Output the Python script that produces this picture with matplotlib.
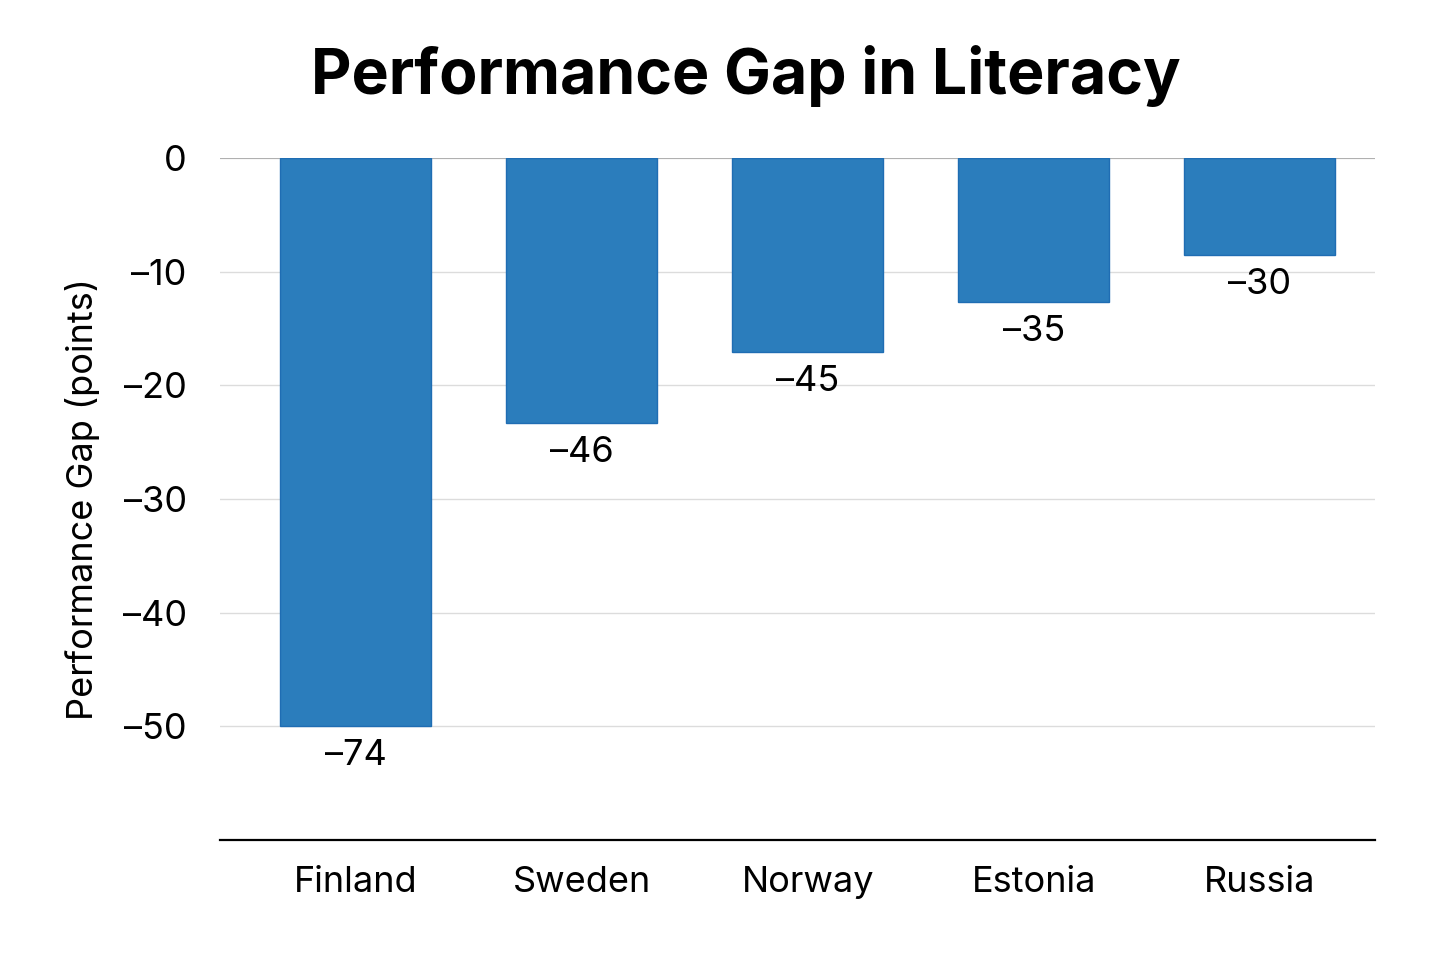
import matplotlib.pyplot as plt
import numpy as np

# Дані
countries = ['Finland', 'Sweden', 'Norway', 'Estonia', 'Russia']
bar_heights = [-50, -23.3, -17.1, -12.7, -8.5]   # висота стовпців, як намальовано
gap_labels = ['–74', '–46', '–45', '–35', '–30']  # підписи під стовпцями
yticks = [0, -10, -20, -30, -40, -50]
ytick_labels = ['0', '–10', '–20', '–30', '–40', '–50']

plt.rcParams['font.family'] = ['Inter', 'DejaVu Sans']

fig = plt.figure(figsize=(14.56, 9.71), dpi=100)
ax = fig.add_axes([0.1511, 0.1349, 0.7933, 0.7024])

x = np.arange(len(countries))
ax.bar(x, bar_heights, width=0.67, color='#2b7dbc', edgecolor='#1f6db3',
       linewidth=1, zorder=3)

for xi, h, lab in zip(x, bar_heights, gap_labels):
    ax.text(xi, h - 2.6, lab, ha='center', va='center', fontsize=26, zorder=4)

ax.set_xlim(-0.60, 4.51)
ax.set_ylim(-60, 0)
ax.set_yticks(yticks)
ax.set_yticklabels(ytick_labels, fontsize=26)
ax.set_xticks(x)
ax.set_xticklabels(countries, fontsize=26)
ax.tick_params(axis='both', length=0)
ax.tick_params(axis='y', pad=24)
ax.tick_params(axis='x', pad=19)

ax.grid(axis='y', color='#dcdcdc', linewidth=1, zorder=0)
ax.axhline(0, color='#a8a8a8', linewidth=1.2, zorder=2)

for s in ['top', 'right', 'left']:
    ax.spines[s].set_visible(False)
ax.spines['bottom'].set_linewidth(1.6)
ax.spines['bottom'].set_color('black')

ax.set_ylabel('Performance Gap (points)', fontsize=26, labelpad=16)
fig.text(0.512, 0.922, 'Performance Gap in Literacy', ha='center', va='center',
         fontsize=45, fontweight='bold')

fig.savefig('out.png', dpi=100)
